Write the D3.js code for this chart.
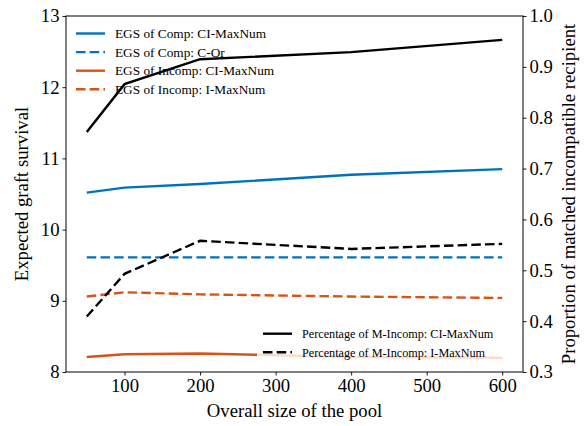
<!DOCTYPE html>
<html><head><meta charset="utf-8">
<script src="https://cdn.jsdelivr.net/npm/d3@7"></script>
<style>body{margin:0;background:#fff}svg{display:block}text{font-family:"Liberation Serif","Times New Roman",serif;fill:#000}</style>
</head><body>
<svg id="c" width="585" height="426"></svg>
<script>
const poolSizes = [50, 100, 200, 400, 600];
const egsCompCI = [10.52, 10.59, 10.64, 10.77, 10.85];
const egsCompCOr = [9.61, 9.61, 9.61, 9.61, 9.61];
const egsIncompCI = [8.21, 8.25, 8.26, 8.21, 8.20];
const egsIncompIMax = [9.06, 9.12, 9.09, 9.06, 9.04];
const pctCI = [0.772, 0.866, 0.915, 0.929, 0.953];
const pctIMax = [0.409, 0.493, 0.558, 0.542, 0.552];
const xTicks = [100, 200, 300, 400, 500, 600];
const yLeftTicks = [8, 9, 10, 11, 12, 13];
const yRightTicks = [0.3, 0.4, 0.5, 0.6, 0.7, 0.8, 0.9, 1.0];

const blue = "#0072BD", orange = "#D95319";
const L = 66, R = 523, T = 16, B = 372;
const svg = d3.select("#c");
const x = d3.scaleLinear().domain([22.5, 627.5]).range([L, R]);
const yL = d3.scaleLinear().domain([8, 13]).range([B, T]);
const yR = d3.scaleLinear().domain([0.3, 1.0]).range([B, T]);
const dash = "9.5,4.2";

function drawLine(vals, y, color, dashed) {
  const line = d3.line().x((d, i) => x(poolSizes[i])).y(d => y(d));
  svg.append("path").datum(vals).attr("d", line).attr("fill", "none")
    .attr("stroke", color).attr("stroke-width", 2.4)
    .attr("stroke-dasharray", dashed ? dash : null);
}

// left axis series
drawLine(egsCompCI, yL, blue, false);
drawLine(egsCompCOr, yL, blue, true);
drawLine(egsIncompCI, yL, orange, false);
drawLine(egsIncompIMax, yL, orange, true);

// left legend
const leg1 = [["EGS of Comp: CI-MaxNum", blue, false], ["EGS of Comp: C-Or", blue, true],
  ["EGS of Incomp: CI-MaxNum", orange, false], ["EGS of Incomp: I-MaxNum", orange, true]];
leg1.forEach((d, i) => {
  const yy = 33.5 + i * 18.6;
  svg.append("line").attr("x1", 76).attr("x2", 105).attr("y1", yy).attr("y2", yy)
    .attr("stroke", d[1]).attr("stroke-width", 2.4).attr("stroke-dasharray", d[2] ? "9.5,4.2" : null);
  svg.append("text").attr("x", 115).attr("y", yy + 4.5).attr("font-size", 13.3).text(d[0]);
});

// right axis series
drawLine(pctCI, yR, "#000", false);
drawLine(pctIMax, yR, "#000", true);

// right legend
svg.append("rect").attr("x", 257).attr("y", 322).attr("width", 250).attr("height", 43)
  .attr("fill", "#fff").attr("fill-opacity", 0.8);
const leg2 = [["Percentage of M-Incomp: CI-MaxNum", false], ["Percentage of M-Incomp: I-MaxNum", true]];
leg2.forEach((d, i) => {
  const yy = 333.7 + i * 18.6;
  svg.append("line").attr("x1", 263).attr("x2", 292).attr("y1", yy).attr("y2", yy)
    .attr("stroke", "#000").attr("stroke-width", 2.4).attr("stroke-dasharray", d[1] ? "9.5,4.2" : null);
  svg.append("text").attr("x", 302).attr("y", yy + 4.2).attr("font-size", 12.2).text(d[0]);
});

// axes
const fs = 18.7;
const gx = svg.append("g").attr("transform", `translate(0,${B})`)
  .call(d3.axisBottom(x).tickValues(xTicks).tickSize(3.5).tickPadding(3).tickFormat(d3.format("d")));
const gl = svg.append("g").attr("transform", `translate(${L},0)`)
  .call(d3.axisLeft(yL).tickValues(yLeftTicks).tickSize(3.5).tickPadding(3).tickFormat(d3.format("d")));
const gr = svg.append("g").attr("transform", `translate(${R},0)`)
  .call(d3.axisRight(yR).tickValues(yRightTicks).tickSize(3.5).tickPadding(3).tickFormat(d3.format(".1f")));
[gx, gl, gr].forEach(g => {
  g.select(".domain").remove();
  g.selectAll("text").attr("font-size", fs).attr("font-family", '"Liberation Serif",serif');
  g.selectAll("line").attr("stroke", "#000").attr("stroke-width", 0.9);
});
svg.append("rect").attr("x", L).attr("y", T).attr("width", R - L).attr("height", B - T)
  .attr("fill", "none").attr("stroke", "#000").attr("stroke-width", 1);

// axis titles
svg.append("text").attr("x", (L + R) / 2).attr("y", 417).attr("text-anchor", "middle")
  .attr("font-size", fs).text("Overall size of the pool");
svg.append("text").attr("transform", `translate(28,${(T + B) / 2}) rotate(-90)`)
  .attr("text-anchor", "middle").attr("font-size", fs).text("Expected graft survival");
svg.append("text").attr("transform", `translate(575,${(T + B) / 2}) rotate(-90)`)
  .attr("text-anchor", "middle").attr("font-size", fs).text("Proportion of matched incompatible recipient");
</script>
</body></html>
